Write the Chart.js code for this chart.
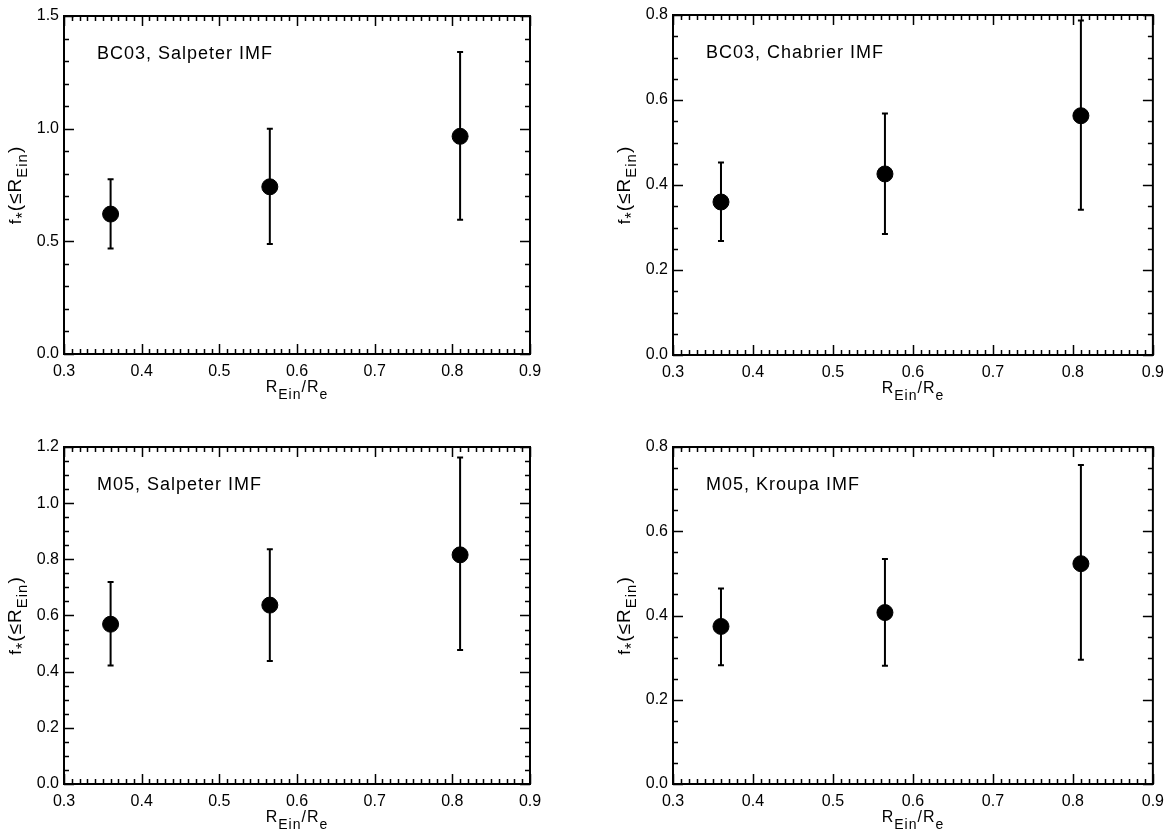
<!DOCTYPE html>
<html>
<head>
<meta charset="utf-8">
<script src="https://cdn.jsdelivr.net/npm/chart.js@4/dist/chart.umd.min.js"></script>
<style>
  body { margin: 0; background: #fff; }
  #wrap { position: relative; width: 1172px; height: 840px; }
  #wrap canvas { position: absolute; }
</style>
</head>
<body>
<div id="wrap">
  <canvas id="tl" width="586" height="420" style="left:0;top:0"></canvas>
  <canvas id="tr" width="586" height="420" style="left:586px;top:0"></canvas>
  <canvas id="bl" width="586" height="420" style="left:0;top:420px"></canvas>
  <canvas id="br" width="586" height="420" style="left:586px;top:420px"></canvas>
</div>
<script>
// R_Ein / R_e of the three bins
const xVals = [0.36, 0.565, 0.81];
const xTicks = [0.3, 0.4, 0.5, 0.6, 0.7, 0.8, 0.9];

// BC03, Salpeter
const bc03SalpY = [0.621, 0.742, 0.966];
const bc03SalpLo = [0.468, 0.488, 0.596];
const bc03SalpHi = [0.775, 1.0, 1.34];
const bc03SalpTicks = [0.0, 0.5, 1.0, 1.5];

// BC03, Chabrier
const bc03ChabY = [0.360, 0.426, 0.563];
const bc03ChabLo = [0.268, 0.285, 0.342];
const bc03ChabHi = [0.453, 0.568, 0.787];
const bc03ChabTicks = [0.0, 0.2, 0.4, 0.6, 0.8];

// M05, Salpeter
const m05SalpY = [0.569, 0.637, 0.816];
const m05SalpLo = [0.422, 0.438, 0.477];
const m05SalpHi = [0.719, 0.836, 1.163];
const m05SalpTicks = [0.0, 0.2, 0.4, 0.6, 0.8, 1.0, 1.2];

// M05, Kroupa
const m05KrouY = [0.374, 0.407, 0.523];
const m05KrouLo = [0.282, 0.281, 0.295];
const m05KrouHi = [0.464, 0.534, 0.757];
const m05KrouTicks = [0.0, 0.2, 0.4, 0.6, 0.8];

const FONT = "'Liberation Sans', Arial, sans-serif";
Chart.defaults.font.family = FONT;
Chart.defaults.font.size = 16;
Chart.defaults.color = "#000";

// frame, inward ticks, error bars and the axis titles (IDL style)
const idlPlot = {
  id: "idlPlot",
  beforeDatasetsDraw(chart) {
    const { ctx, scales: { x, y } } = chart;
    const o = chart.options.plugins.idlPlot;
    ctx.save();
    ctx.strokeStyle = "#000";
    ctx.lineWidth = 2;
    o.y.forEach((v, i) => {
      const px = x.getPixelForValue(xVals[i]);
      const top = y.getPixelForValue(o.hi[i]);
      const bot = y.getPixelForValue(o.lo[i]);
      ctx.beginPath();
      ctx.moveTo(px, top); ctx.lineTo(px, bot);
      ctx.moveTo(px - 3, top); ctx.lineTo(px + 3, top);
      ctx.moveTo(px - 3, bot); ctx.lineTo(px + 3, bot);
      ctx.stroke();
    });
    ctx.restore();
  },
  afterDraw(chart) {
    const { ctx, chartArea: a, scales: { x, y } } = chart;
    const o = chart.options.plugins.idlPlot;
    ctx.save();
    ctx.strokeStyle = "#000";
    ctx.lineWidth = 2;
    ctx.strokeRect(a.left, a.top, a.right - a.left, a.bottom - a.top);

    ctx.lineWidth = 1.5;
    ctx.beginPath();
    // x ticks every 0.01, major every 0.1
    for (let i = 0; i <= 60; i++) {
      const px = Math.round(x.getPixelForValue(0.3 + i * 0.01)) + 0.5;
      const len = i % 10 === 0 ? 10 : 5;
      ctx.moveTo(px, a.bottom); ctx.lineTo(px, a.bottom - len);
      ctx.moveTo(px, a.top); ctx.lineTo(px, a.top + len);
    }
    const nMinor = Math.round(o.yMax / o.yMinor);
    const per = Math.round(o.yStep / o.yMinor);
    for (let i = 0; i <= nMinor; i++) {
      const py = Math.round(y.getPixelForValue(i * o.yMinor)) + 0.5;
      const len = i % per === 0 ? 10 : 5;
      ctx.moveTo(a.left, py); ctx.lineTo(a.left + len, py);
      ctx.moveTo(a.right, py); ctx.lineTo(a.right - len, py);
    }
    ctx.stroke();

    // panel label
    ctx.fillStyle = "#000";
    ctx.font = "18px " + FONT;
    ctx.letterSpacing = "1px";
    ctx.textBaseline = "alphabetic";
    ctx.fillText(o.label, a.left + 33, a.top + 43);

    // x title  R_Ein / R_e
    const xt = [
      { t: "R", s: 16, dy: 0 }, { t: "Ein", s: 14, dy: 7 },
      { t: "/R", s: 16, dy: 0 }, { t: "e", s: 14, dy: 7 }
    ];
    drawPieces(ctx, xt, (a.left + a.right) / 2, a.bottom + 38, 0);

    // y title  f*(<=R_Ein)
    const yt = [
      { t: "f", s: 17, dy: 0 }, { t: "*", s: 16, dy: 7 },
      { t: "(≤R", s: 19, dy: 0 }, { t: "Ein", s: 15, dy: 6 },
      { t: ")", s: 19, dy: 0 }
    ];
    drawPieces(ctx, yt, a.left - 43, (a.top + a.bottom) / 2, -Math.PI / 2);
    ctx.restore();
  }
};

function drawPieces(ctx, pieces, cx, cy, rot) {
  ctx.save();
  ctx.translate(cx, cy);
  ctx.rotate(rot);
  ctx.letterSpacing = "1px";
  let total = 0;
  pieces.forEach(p => {
    ctx.font = p.s + "px " + FONT;
    p.w = ctx.measureText(p.t).width;
    total += p.w;
  });
  let xx = -total / 2;
  ctx.textAlign = "left";
  pieces.forEach(p => {
    ctx.font = p.s + "px " + FONT;
    ctx.fillText(p.t, xx, p.dy);
    xx += p.w;
  });
  ctx.restore();
}

function makePanel(id, cfg) {
  new Chart(document.getElementById(id), {
    type: "scatter",
    data: {
      datasets: [{
        data: xVals.map((v, i) => ({ x: v, y: cfg.y[i] })),
        backgroundColor: "#000",
        borderColor: "#000",
        pointRadius: 8,
        pointHoverRadius: 8
      }]
    },
    options: {
      responsive: false,
      animation: false,
      devicePixelRatio: 1,
      layout: { padding: { left: 0, right: cfg.padRight, top: cfg.padTop, bottom: 0 } },
      plugins: {
        legend: { display: false },
        tooltip: { enabled: false },
        idlPlot: cfg
      },
      scales: {
        x: {
          type: "linear",
          min: 0.3, max: 0.9,
          grid: { display: false, drawTicks: false },
          border: { display: false },
          afterFit: s => { s.height = cfg.xH; },
          afterBuildTicks: s => { s.ticks = xTicks.map(v => ({ value: v })); },
          ticks: { padding: 8, maxRotation: 0, font: { size: 16 }, callback: v => v.toFixed(1) }
        },
        y: {
          type: "linear",
          min: 0, max: cfg.yMax,
          grid: { display: false, drawTicks: false },
          border: { display: false },
          afterFit: s => { s.width = cfg.yW; },
          afterBuildTicks: s => { s.ticks = cfg.ticks.map(v => ({ value: v })); },
          ticks: { padding: 5, font: { size: 16 }, callback: v => v.toFixed(1) }
        }
      }
    },
    plugins: [idlPlot]
  });
}

makePanel("tl", { label: "BC03, Salpeter IMF", y: bc03SalpY, lo: bc03SalpLo, hi: bc03SalpHi,
  ticks: bc03SalpTicks, yMax: 1.5, yStep: 0.5, yMinor: 0.1,
  yW: 64, xH: 66, padTop: 16, padRight: 56 });
makePanel("tr", { label: "BC03, Chabrier IMF", y: bc03ChabY, lo: bc03ChabLo, hi: bc03ChabHi,
  ticks: bc03ChabTicks, yMax: 0.8, yStep: 0.2, yMinor: 0.05,
  yW: 87, xH: 65, padTop: 15, padRight: 15 });
makePanel("bl", { label: "M05, Salpeter IMF", y: m05SalpY, lo: m05SalpLo, hi: m05SalpHi,
  ticks: m05SalpTicks, yMax: 1.2, yStep: 0.2, yMinor: 0.05,
  yW: 64, xH: 56, padTop: 27, padRight: 56 });
makePanel("br", { label: "M05, Kroupa IMF", y: m05KrouY, lo: m05KrouLo, hi: m05KrouHi,
  ticks: m05KrouTicks, yMax: 0.8, yStep: 0.2, yMinor: 0.05,
  yW: 87, xH: 56, padTop: 27, padRight: 15 });
</script>
</body>
</html>
